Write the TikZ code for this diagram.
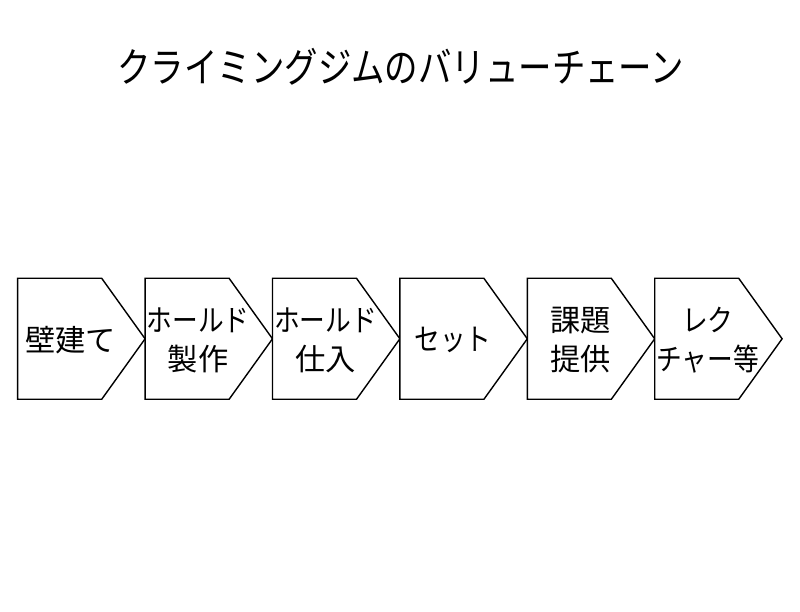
\documentclass[tikz,border=0pt]{standalone}
\usepackage{fontspec}
\newfontfamily\jpfont{Noto Sans CJK JP}
\usetikzlibrary{calc}
\newcommand{\narrowkana}[1]{\scalebox{0.85}[1]{#1}}
\tikzset{
  headline/.style={font=\jpfont\fontsize{29}{34}\selectfont, inner sep=0pt},
  chevron/.style={draw=black, line width=1pt, fill=white, line join=miter},
  stage/.style={align=center, font=\jpfont\fontsize{21.5}{27.5}\selectfont, inner sep=0pt},
}
\begin{document}
\begin{tikzpicture}
  \useasboundingbox (0,0) rectangle (20,15.3);
  % title
  \node[headline] (ttl) at (10.02,13.62) {\scalebox{0.82}[1]{クライミングジムのバリューチェーン}};
  % value chain stages
  \foreach \i/\txt in {0/壁建て, 1/{\narrowkana{ホールド}\\製作}, 2/{\narrowkana{ホールド}\\仕入}, 3/\narrowkana{セット}, 4/{課題\\提供}, 5/{\narrowkana{レク}\\\narrowkana{チャー等}}} {
    \coordinate (p\i) at ({0.4425+3.185*\i},8.3425);
    \draw[chevron] (p\i) -- ++(2.1,0) -- ++(1.085,-1.5125) -- ++(-1.085,-1.5125) -- ++(-2.1,0) -- cycle;
    \node[stage] (s\i) at ($(p\i)+(1.325,-1.55)$) {\txt};
  }
\end{tikzpicture}
\end{document}
